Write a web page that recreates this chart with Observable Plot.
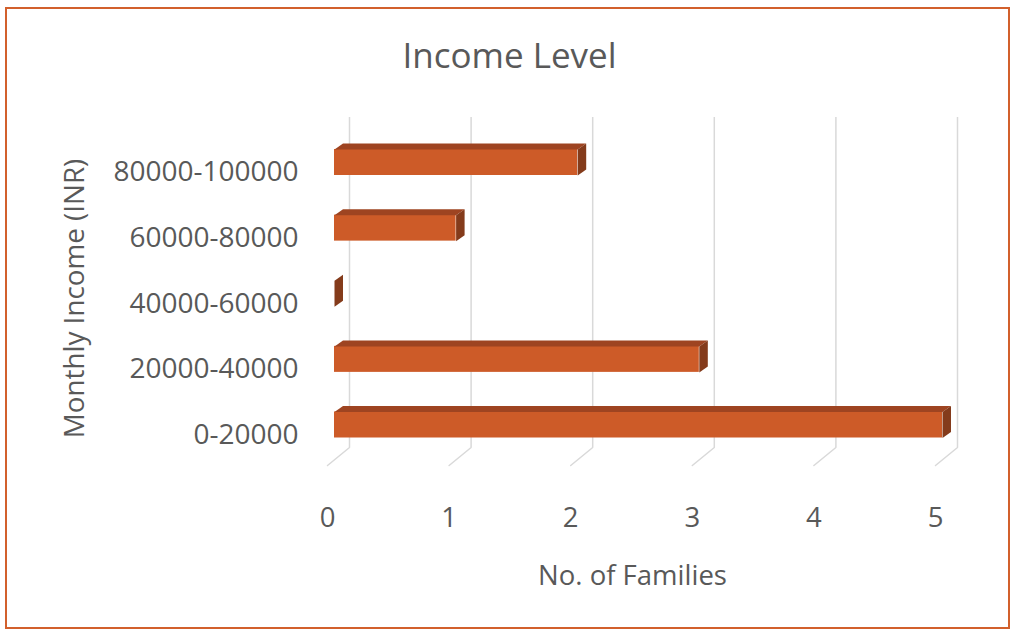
<!DOCTYPE html>
<html><head><meta charset="utf-8">
<script src="https://cdn.jsdelivr.net/npm/d3@7"></script>
<script src="https://cdn.jsdelivr.net/npm/@observablehq/plot@0.6"></script>
<style>
body{margin:0;background:#fff;}
#wrap{position:relative;width:1013px;height:630px;overflow:hidden;background:#fff;}
#border{position:absolute;left:5px;top:7px;width:1005px;height:622px;box-sizing:border-box;border:2px solid #D2602C;}
#chart{position:absolute;left:0;top:0;}
</style>
</head><body>
<div id="wrap"><div id="border"></div><div id="chart"></div></div>
<script>
const categories = ["0-20000", "20000-40000", "40000-60000", "60000-80000", "80000-100000"];
const families = [5, 3, 0, 1, 2];
const xTicks = [0, 1, 2, 3, 4, 5];

const W = 1013, H = 630;
const mL = 334, mR = 71, mT = 117, mB = 165;
const yRange = [424.5, 162];
const kx = (W - mL - mR) / 5;
const ky = (yRange[0] - yRange[1]) / (categories.length - 1);
const barH = 26 / ky;          // bar thickness in y units
const ddx = 8.5 / kx, ddy = 6 / ky; // 3D depth
const backDx = 15, frontDx = -7;

const data = categories.map((c, i) => ({c, i, v: families[i]}));

const topFaces = [], sideFaces = [];
data.forEach(d => {
  const t = d.i + barH / 2, b = d.i - barH / 2;
  [[0, t], [d.v, t], [d.v + ddx, t + ddy], [ddx, t + ddy]].forEach(([x, y]) => topFaces.push({id: d.c, x, y}));
  [[d.v, b], [d.v, t], [d.v + ddx, t + ddy], [d.v + ddx, b + ddy]].forEach(([x, y]) => sideFaces.push({id: d.c, x, y}));
});
const yBackFloor = (yRange[0] - (H - mB - 18)) / ky;
const yFrontFloor = (yRange[0] - (H - mB)) / ky;
const floorLines = [];
xTicks.forEach(t => {
  floorLines.push({id: t, x: t + backDx / kx, y: yBackFloor});
  floorLines.push({id: t, x: t + frontDx / kx, y: yFrontFloor});
});

const txt = "#595959";
const fx = (mL + W - mR) / 2;
const fy = (mT + H - mB) / 2;

const chart = Plot.plot({
  width: W, height: H,
  marginLeft: mL, marginRight: mR, marginTop: mT, marginBottom: mB,
  style: {fontFamily: "'Open Sans', sans-serif", color: txt, background: "transparent", overflow: "visible"},
  x: {domain: [0, 5], axis: null},
  y: {domain: [0, categories.length - 1], range: yRange, axis: null},
  marks: [
    Plot.ruleX(xTicks, {x: d => d, dx: backDx, insetBottom: 18, stroke: "#d9d9d9", strokeWidth: 1.5}),
    Plot.line(floorLines, {x: "x", y: "y", z: "id", stroke: "#d9d9d9", strokeWidth: 1.5}),
    Plot.rect(data, {x1: () => 0, x2: "v", y1: d => d.i - barH / 2, y2: d => d.i + barH / 2, fill: "#CD5B28"}),
    Plot.line(topFaces, {x: "x", y: "y", z: "id", fill: "#9E4421", stroke: "none"}),
    Plot.line(sideFaces, {x: "x", y: "y", z: "id", fill: "#843B1B", stroke: "none"}),
    Plot.axisX({ticks: xTicks, tickFormat: d => String(d), label: null, tickSize: 0, tickPadding: 42, dx: frontDx, fontSize: 27.5, fill: txt}),
    Plot.axisY({ticks: d3.range(categories.length), tickFormat: i => categories[i], label: null, tickSize: 0, tickPadding: 36, dy: 10, fontSize: 28, fill: txt}),
    Plot.text(["Income Level"], {text: d => d, frameAnchor: "top", dx: 509 - fx, dy: 56 - mT, lineAnchor: "middle", textAnchor: "middle", fontSize: 35, fill: txt}),
    Plot.text(["No. of Families"], {text: d => d, frameAnchor: "bottom", dx: 632 - fx, dy: 576 - (H - mB), lineAnchor: "middle", textAnchor: "middle", fontSize: 27.5, fill: txt}),
    Plot.text(["Monthly Income (INR)"], {text: d => d, frameAnchor: "left", rotate: -90, dx: 75 - mL, dy: 298 - fy, lineAnchor: "middle", textAnchor: "middle", fontSize: 27.8, fill: txt})
  ]
});
document.getElementById("chart").appendChild(chart);
</script>
</body></html>
